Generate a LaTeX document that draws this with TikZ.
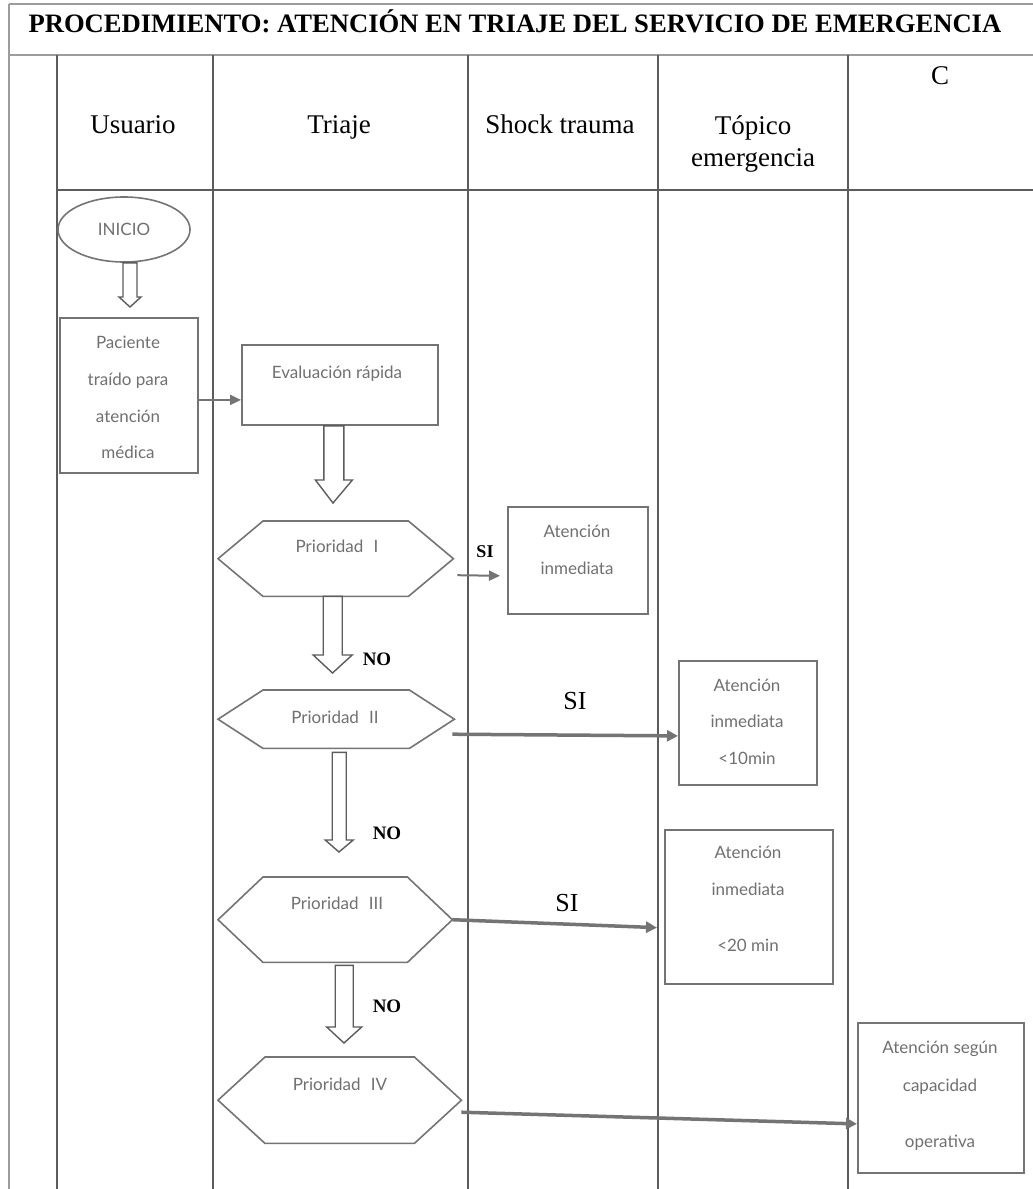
\documentclass[tikz,border=0pt]{standalone}
\usepackage{fontspec}
\setmainfont{Liberation Serif}
\newfontfamily\flowfont{Lato}
\usetikzlibrary{shapes.geometric,calc,arrows.meta}
\definecolor{linegray}{HTML}{5C5C5C}
\definecolor{boxgray}{HTML}{747474}
\definecolor{txtgray}{HTML}{707070}
\definecolor{framegray}{HTML}{9C9C9C}
\begin{document}
\begin{tikzpicture}[x=1pt,y=-1pt,
  tbl/.style={draw=linegray, line width=1.3pt},
  frame/.style={draw=framegray, line width=1.8pt},
  box/.style={draw=boxgray, line width=1.8pt, rectangle, inner sep=0pt, anchor=north west},
  hexbox/.style={rectangle, inner sep=0pt, anchor=north west},
  hexline/.style={draw=boxgray, line width=1.6pt, line join=miter},
  ftext/.style={font=\flowfont\fontsize{17}{20}\selectfont, text=txtgray, anchor=base, inner sep=0pt},
  headtext/.style={font=\fontsize{27}{30}\selectfont, anchor=base, inner sep=0pt},
  boldlbl/.style={font=\bfseries\fontsize{19}{22}\selectfont, anchor=base, inner sep=0pt},
  siglbl/.style={font=\fontsize{26}{30}\selectfont, anchor=base, inner sep=0pt},
  flowarrow/.style={draw=boxgray, line width=2pt, -{Triangle[length=11pt,width=10pt]}},
  bigarrow/.style={draw=boxgray, line width=3.5pt, -{Triangle[length=11pt,width=11pt]}},
  hollow/.style args={#1/#2/#3}{draw=linegray, fill=white, line width=1.4pt, line join=miter,
    to path={let \p1=(\tikztostart), \p2=(\tikztotarget) in
      (\x1-#1pt,\y1) -- (\x1-#1pt,\y2+#3pt) -- (\x1-#2pt,\y2+#3pt) -- (\x2,\y2)
      -- (\x1+#2pt,\y2+#3pt) -- (\x1+#1pt,\y2+#3pt) -- (\x1+#1pt,\y1) -- cycle}}
]
\fill[white] (0,0) rectangle (1033,1189);
\useasboundingbox (0,0) rectangle (1033,1189);

% ---------- table frame ----------
\draw[frame] (9,4) -- (1033,4);
\draw[frame] (9,4) -- (9,1189);
\draw[frame] (9,55) -- (1033,55);
\draw[tbl] (57,190) -- (1033,190);
\foreach \cx in {57,213,468,658,848} { \draw[tbl] (\cx,55) -- (\cx,1189); }

% ---------- headings ----------
\node[font=\bfseries\fontsize{26.6}{30}\selectfont, anchor=base, inner sep=0pt] (title) at (515,32)
  {PROCEDIMIENTO: ATENCIÓN EN TRIAJE DEL SERVICIO DE EMERGENCIA};
\node[headtext] (hU) at (133,133) {Usuario};
\node[headtext] (hT) at (339,133) {Triaje};
\node[headtext] (hS) at (560,133) {Shock trauma};
\node[headtext] (hP1) at (753,134) {Tópico};
\node[headtext] (hP2) at (753,166) {emergencia};
\node[headtext] (hC) at (940,84) {C};

% ---------- Usuario lane ----------
\node[draw=boxgray, line width=1.6pt, ellipse, minimum width=132pt, minimum height=65pt,
      inner sep=0pt, text=txtgray, font=\flowfont\fontsize{17}{20}\selectfont] (ini) at (124,229.5) {INICIO};
\node[box, minimum width=138pt, minimum height=155pt] (pac) at (59,317) {};
\node[ftext] (pac1) at (128,348) {Paciente};
\node[ftext] (pac2) at (128,385) {traído para};
\node[ftext] (pac3) at (128,422) {atención};
\node[ftext] (pac4) at (128,458) {médica};

% ---------- Triaje lane ----------
\node[box, minimum width=196pt, minimum height=80pt] (ev) at (241,344) {};
\node[ftext] (evt) at (337,378) {Evaluación rápida};

\node[hexbox, minimum width=235pt, minimum height=75pt] (p1) at (218,521) {};
\node[hexbox, minimum width=236pt, minimum height=58pt] (p2) at (218,690) {};
\node[hexbox, minimum width=234pt, minimum height=85pt] (p3) at (218,877) {};
\node[hexbox, minimum width=243pt, minimum height=86pt] (p4) at (218,1057) {};
\foreach \h/\d in {p1/45,p2/45,p3/45,p4/47} {
  \draw[hexline] (\h.west) -- ([xshift=\d pt]\h.north west) -- ([xshift=-\d pt]\h.north east)
    -- (\h.east) -- ([xshift=-\d pt]\h.south east) -- ([xshift=\d pt]\h.south west) -- cycle;
}
\node[ftext] (p1t) at (337,552) {Prioridad\hspace{0.6em}I};
\node[ftext] (p2t) at (335,723) {Prioridad\hspace{0.6em}II};
\node[ftext] (p3t) at (337,909) {Prioridad\hspace{0.6em}III};
\node[ftext] (p4t) at (340,1090) {Prioridad\hspace{0.6em}IV};

% ---------- Shock trauma ----------
\node[box, minimum width=140pt, minimum height=107pt] (sh) at (507,506) {};
\node[ftext] (sh1) at (577,537) {Atención};
\node[ftext] (sh2) at (577,574) {inmediata};

% ---------- Tópico ----------
\node[box, minimum width=138pt, minimum height=124pt] (t1) at (678,660) {};
\node[ftext] (t1a) at (747,691) {Atención};
\node[ftext] (t1b) at (747,727) {inmediata};
\node[ftext] (t1c) at (747,764) {<10min};

\node[box, minimum width=168pt, minimum height=154pt] (t2) at (664,829) {};
\node[ftext] (t2a) at (748,858) {Atención};
\node[ftext] (t2b) at (748,895) {inmediata};
\node[ftext] (t2c) at (748,951) {<20 min};

% ---------- C lane ----------
\node[box, minimum width=166pt, minimum height=150pt] (cg) at (857,1022) {};
\node[ftext] (cg1) at (940,1053) {Atención según};
\node[ftext] (cg2) at (940,1091) {capacidad};
\node[ftext] (cg3) at (940,1147) {operativa};

% ---------- hollow arrows ----------
\coordinate (h1s) at ($(ini.south)+(6,0)$);  \coordinate (h1e) at (130,307);
\coordinate (h2s) at ($(ev.south)+(-6,0)$);  \coordinate (h2e) at (333,503);
\coordinate (h3s) at ($(p1.south)+(-3,0)$);  \coordinate (h3e) at (332.5,673);
\coordinate (h4s) at ($(p2.south)+(3,4)$);   \coordinate (h4e) at (339,852);
\coordinate (h5s) at ($(p3.south)+(9,3)$);   \coordinate (h5e) at (344,1043);
\draw[hollow=7/11/10] (h1s) to (h1e);
\draw[hollow=10/18.5/23] (h2s) to (h2e);
\draw[hollow=9.5/19.5/18] (h3s) to (h3e);
\draw[hollow=7/14/12] (h4s) to (h4e);
\draw[hollow=9/17.5/16] (h5s) to (h5e);

% ---------- solid arrows ----------
\draw[flowarrow] ($(pac.east)+(0,4.5)$) -- ($(ev.west)+(0,15)$);
\draw[flowarrow, shorten >=7pt] ($(p1.east)+(4,16.5)$) -- ($(sh.west)+(0,15.5)$);
\draw[bigarrow] ($(p2.east)+(-2,15)$) -- ($(t1.west)+(0,13)$);
\draw[bigarrow, shorten >=7pt] (p3.east) -- ($(t2.west)+(0,21)$);
\draw[bigarrow] ($(p4.east)+(0,12)$) -- ($(cg.west)+(0,26)$);

% ---------- labels ----------
\node[boldlbl, font=\bfseries\fontsize{18}{22}\selectfont] (si1) at (485,557) {SI};
\node[siglbl] (si2) at (575,709) {SI};
\node[siglbl] (si3) at (567,911) {SI};
\node[boldlbl] (no1) at (377,665) {NO};
\node[boldlbl] (no2) at (387,839) {NO};
\node[boldlbl] (no3) at (387,1012) {NO};
\end{tikzpicture}
\end{document}
